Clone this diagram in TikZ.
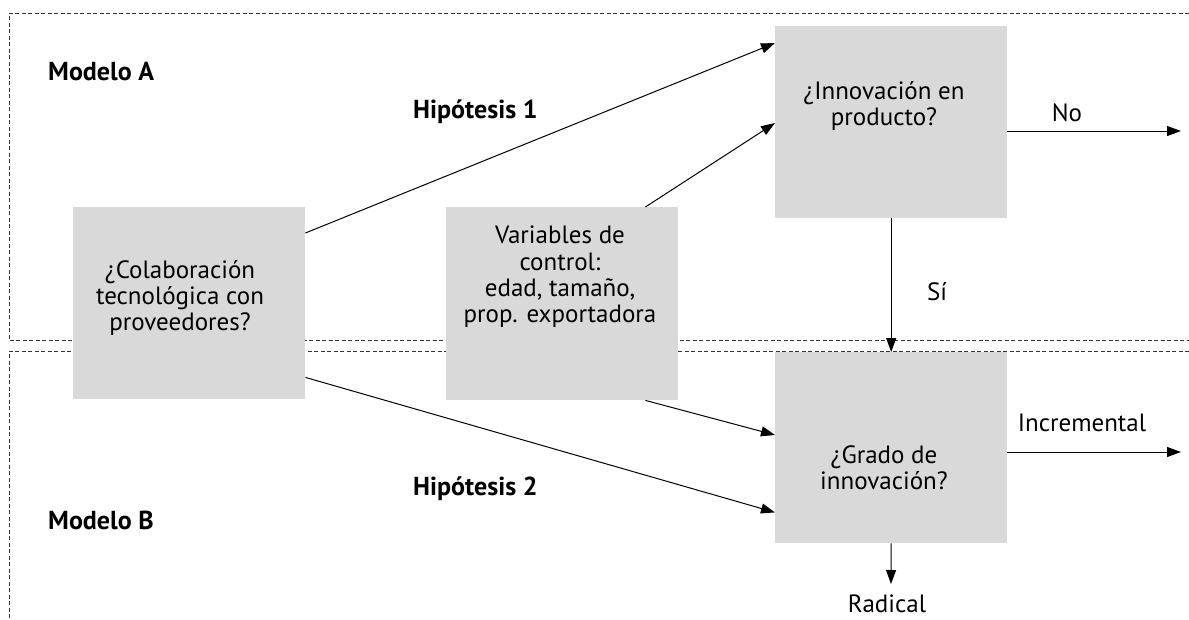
\documentclass[tikz,border=0pt]{standalone}
\usepackage{fontspec}
\setmainfont{PT Sans}
\usetikzlibrary{arrows.meta}
\definecolor{boxgray}{HTML}{D9D9D9}
\begin{document}
\begin{tikzpicture}[x=1pt,y=-1pt,
  graybox/.style={fill=boxgray,draw=none,minimum width=#1,inner sep=0pt,anchor=north west},
  boxtext/.style={align=center,font=\fontsize{25}{26.3}\selectfont,inner sep=0pt},
  lbl/.style={font=\fontsize{25}{26}\selectfont,inner sep=0pt},
  boldlbl/.style={font=\fontsize{26}{28}\selectfont\bfseries,inner sep=0pt},
  arr/.style={-{Triangle[length=14pt,width=10pt]},line width=1pt},
  frame/.style={dash pattern=on 4pt off 2.5pt,line width=0.9pt,draw=black!80}
]
\useasboundingbox (0,0) rectangle (1189,619);
% dashed frames
\draw[frame] (1189,13) -- (9,13) -- (9,340) -- (1189,340);
\draw[frame] (1189,351) -- (9,351) -- (9,619);
% boxes
\node[graybox=232pt,minimum height=192pt] (colab) at (73,207) {};
\node[graybox=232pt,minimum height=193pt] (vars) at (446,207) {};
\node[graybox=232pt,minimum height=192pt] (innov) at (775,26) {};
\node[graybox=232pt,minimum height=191pt] (grado) at (775,352) {};
% box texts
\node[boxtext] (tcolab) at (180,298) {¿Colaboración\\tecnológica con\\proveedores?};
\node[boxtext] (tvars) at (560,277) {Variables de\\control:\\edad, tamaño,\\prop. exportadora};
\node[boxtext] (tinnov) at (884,106) {¿Innovación en\\producto?};
\node[boxtext] (tgrado) at (884,468) {¿Grado de\\innovación?};
% labels
\node[boldlbl,anchor=west] (ma) at (48,72) {Modelo A};
\node[boldlbl,anchor=west] (mb) at (48,520) {Modelo B};
\node[boldlbl,anchor=west] (h1) at (413,112) {Hipótesis 1};
\node[boldlbl,anchor=west] (h2) at (413,489) {Hipótesis 2};
\node[lbl] (no) at (1067,113) {No};
\node[lbl] (si) at (937,292) {Sí};
\node[lbl] (incr) at (1082,423) {Incremental};
\node[lbl] (rad) at (887,604) {Radical};
% coordinates
\coordinate (noend) at (1181,131);
\coordinate (incrend) at (1181,452);
\coordinate (radend) at (891,584);
% connectors
\draw[arr] ([yshift=-26pt]colab.north east) -- ([yshift=-17pt]innov.north west);
\draw[arr] ([xshift=-33pt]vars.north east) -- ([yshift=-97pt]innov.north west);
\draw[arr] ([yshift=22pt]colab.south east) -- ([yshift=31pt]grado.south west);
\draw[arr] ([xshift=-33pt]vars.south east) -- ([yshift=-83pt]grado.north west);
\draw[arr] (innov.south) -- (grado.north);
\draw[arr] (innov.east |- noend) -- (noend);
\draw[arr] (grado.east |- incrend) -- (incrend);
\draw[arr] (grado.south) -- (radend);
\end{tikzpicture}
\end{document}
